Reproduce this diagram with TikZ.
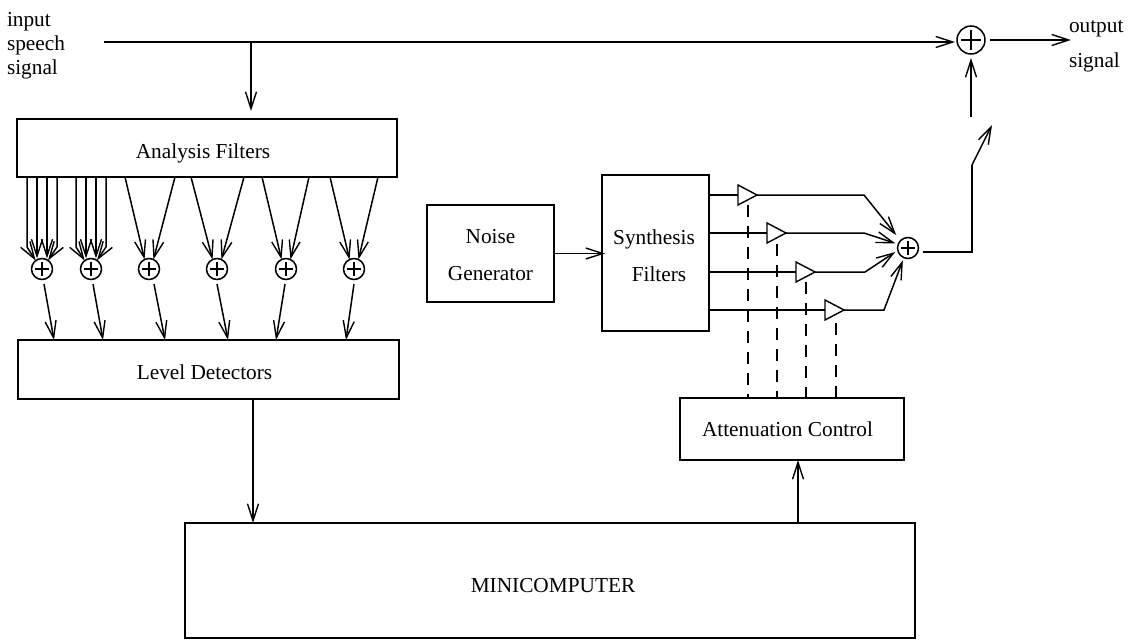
\documentclass[tikz,border=0pt]{standalone}
\usepackage{fontspec}
\setmainfont{Liberation Serif}
\usetikzlibrary{arrows.meta,calc,shapes.geometric}
\newcommand{\txtsize}[1]{\fontsize{21.3}{#1}\selectfont}
\newcommand{\shifted}[3]{\raisebox{#2pt}[\height][\depth]{\hspace*{#1pt}#3}}
\tikzset{
  x=1pt,y=-1pt,
  every node/.style={font=\txtsize{24},inner sep=0,outer sep=0},
  blockbox/.style={draw,line width=1.6pt,anchor=north west,align=center},
  link/.style={line width=1.5pt},
  arr/.style={line width=1.5pt,-{Straight Barb[length=17pt,width=11pt,line width=1.4pt]}},
  ctrl/.style={line width=1.5pt,dash pattern=on 12pt off 9pt},
  plusmark/.style={path picture={
    \draw[line width=1.2pt] ($(path picture bounding box.north)!.16!(path picture bounding box.south)$) -- ($(path picture bounding box.south)!.16!(path picture bounding box.north)$);
    \draw[line width=1.2pt] ($(path picture bounding box.west)!.16!(path picture bounding box.east)$) -- ($(path picture bounding box.east)!.16!(path picture bounding box.west)$);}},
  sumnode/.style={circle,draw,line width=1.5pt,minimum size=21pt,plusmark},
  bigsum/.style={circle,draw,line width=1.5pt,minimum size=28pt,plusmark},
  amp/.style={isosceles triangle,isosceles triangle stretches,draw,line width=1.4pt,fill=white,
    minimum width=20pt,minimum height=19pt,anchor=lower side},
  txt/.style={align=left,anchor=west}
}
\begin{document}
\begin{tikzpicture}
\useasboundingbox (0,0) rectangle (1129,640);
% text labels
\node[txt,font=\txtsize{24}] (inlabel) at (7,45.5) {input\\speech\\signal};
\node[txt,font=\txtsize{35}] (outlabel) at (1069,46) {output\\signal};
% blocks
\node[blockbox,minimum width=380pt,minimum height=58pt] (an) at (17,119) {\shifted{-8}{-5}{Analysis Filters}};
\node[blockbox,minimum width=381pt,minimum height=59pt] (ld) at (18,340) {\shifted{-8}{-3}{Level Detectors}};
\node[blockbox,minimum width=730pt,minimum height=115pt] (mc) at (185,523) {\shifted{6}{-5}{MINICOMPUTER}};
\node[blockbox,minimum width=127pt,minimum height=97pt,font=\txtsize{37}] (ng) at (427,205) {\shifted{0}{-2}{Noise}\\\shifted{0}{-2}{Generator}};
\node[blockbox,minimum width=107pt,minimum height=156pt,font=\txtsize{37}] (sf) at (602,175) {\shifted{-3}{-3}{Synthesis}\\\shifted{7}{-3}{Filters}};
\node[blockbox,minimum width=224pt,minimum height=62pt] (ac) at (680,398) {\shifted{-9}{0}{Attenuation Control}};
% summers
\foreach \n/\x in {s1/42,s2/91,s3/149,s4/217,s5/286,s6/354}
  \node[sumnode] (\n) at (\x,269) {};
\node[sumnode] (ssum) at (908,248) {};
\node[bigsum] (bsum) at (971,40) {};
% amplifiers
\node[amp] (t1) at (738,195) {};
\node[amp] (t2) at (767,233) {};
\node[amp] (t3) at (796,272) {};
\node[amp] (t4) at (825,310) {};
% free ends
\coordinate (instart) at (104,42);
\coordinate (outend) at (1071,40);
\coordinate (swbase) at (972,165);
\coordinate (swtip) at (992,125);
\coordinate (upstart) at (971,117);
\coordinate (tapin) at (251,42);
% input line and output
\draw[arr,shorten >=2pt] (instart) -- (bsum.west |- instart);
\draw[arr,shorten >=8pt] (tapin) -- (an.north -| tapin);
\draw[arr] (bsum.east) ++(5,0) -- (outend);
\draw[arr,shorten >=4pt] (upstart) -- (bsum.south);
\draw[link] (ssum.east) ++(4,4) -- (swbase |- 0,252) -- (swbase);
\draw[arr] (swbase) -- (swtip);
% analysis to summers
\draw[arr] (an.south -| 27,0) -- (27,247) -- (s1.127);
\draw[arr] (an.south -| 37,0) -- (s1.north -| 37,0);
\draw[arr] (an.south -| 47,0) -- (s1.north -| 47,0);
\draw[arr] (an.south -| 57,0) -- (57,247) -- (s1.55);
\draw[arr] (an.south -| 76,0) -- (76,247) -- (s2.127);
\draw[arr] (an.south -| 86,0) -- (s2.north -| 86,0);
\draw[arr] (an.south -| 96,0) -- (s2.north -| 96,0);
\draw[arr] (an.south -| 106,0) -- (106,247) -- (s2.55);
\foreach \n/\a/\b in {s3/125/175,s4/191/244,s5/262/309,s6/330/378}{
  \draw[arr] (an.south -| \a,0) -- (\n.115);
  \draw[arr] (an.south -| \b,0) -- (\n.65);
}
% summers to detectors
\foreach \n/\a/\b in {s1/44/54,s2/93/103,s3/154/165,s4/217/228,s5/285/276,s6/354/346}
  \draw[arr] (\a,284) -- (ld.north -| \b,0);
\draw[arr] (ld.south -| 253,0) -- (mc.north -| 253,0);
\draw[arr] (mc.north -| 798,0) -- (ac.south -| 798,0);
\draw[arr] (ng.east) -- ($(sf.west |- ng.east)+(3,0)$);
% synthesis to amps
\foreach \t in {t1,t2,t3,t4}
  \draw[link] (sf.east |- \t.lower side) -- (\t.lower side);
% control lines (below the amps)
\draw[ctrl] (748,205) -- (ac.north -| 748,0);
\draw[ctrl] (777,244) -- (ac.north -| 777,0);
\draw[ctrl] (806,282) -- (ac.north -| 806,0);
\draw[ctrl] (836,323) -- (ac.north -| 836,0);
% amps to summer
\draw[arr,shorten >=7pt] (t1.apex) -- (864,195) -- (ssum.135);
\draw[arr,shorten >=3pt] (t2.apex) -- (864,233) -- (ssum.159);
\draw[arr,shorten >=3pt] (t3.apex) -- (865,272) -- (ssum.193);
\draw[arr,shorten >=3pt] (t4.apex) -- (884,310) -- (ssum.247);
\end{tikzpicture}
\end{document}
